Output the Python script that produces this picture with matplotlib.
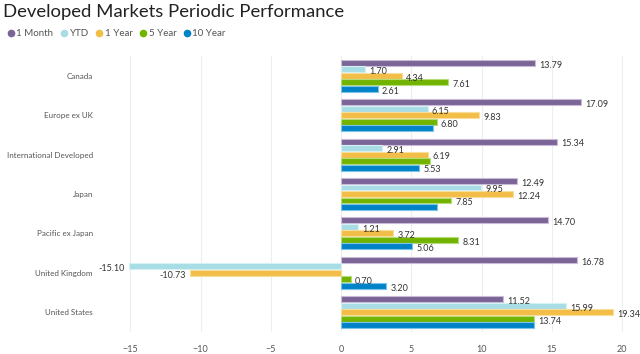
import matplotlib.pyplot as plt
import numpy as np
from matplotlib.lines import Line2D

# Data
regions = ["Canada", "Europe ex UK", "International Developed", "Japan",
           "Pacific ex Japan", "United Kingdom", "United States"]
series = ["1 Month", "YTD", "1 Year", "5 Year", "10 Year"]
one_month = [13.79, 17.09, 15.34, 12.49, 14.70, 16.78, 11.52]
ytd = [1.70, 6.15, 2.91, 9.95, 1.21, -15.10, 15.99]
one_year = [4.34, 9.83, 6.19, 12.24, 3.72, -10.73, 19.34]
five_year = [7.61, 6.80, 6.30, 7.85, 8.31, 0.70, 13.74]
ten_year = [2.61, 6.50, 5.53, 6.85, 5.06, 3.20, 13.70]

# only the data labels that are visible in the reference
shown = {
    "1 Month": [True] * 7,
    "YTD": [True] * 7,
    "1 Year": [True] * 7,
    "5 Year": [True, True, False, True, True, True, True],
    "10 Year": [True, False, True, False, True, True, False],
}

colors = ["#7b6496", "#a8dde6", "#f2be48", "#72b300", "#0082c8"]
edges = ["#c9bcd9", "#d6f0f4", "#f9dd9a", "#b6dc7a", "#7cc3ea"]

plt.rcParams["font.family"] = ["Lato", "DejaVu Sans"]

fig = plt.figure(figsize=(6.4, 3.54), dpi=100)
ax = fig.add_axes([122 / 640, 22 / 354, 503 / 640, 276 / 354])

y = np.arange(len(regions))
bar_h = 0.165
values = [one_month, ytd, one_year, five_year, ten_year]

for i, (name, vals) in enumerate(zip(series, values)):
    pos = y + (i - 2) * bar_h
    ax.barh(pos, vals, height=bar_h * 0.92, color=colors[i],
            edgecolor=edges[i], linewidth=0.8, label=name, zorder=3)
    for p, v, s in zip(pos, vals, shown[name]):
        if not s:
            continue
        if v >= 0:
            ax.text(v + 0.3, p + 0.06, f"{v:.2f}", ha="left", va="center",
                    fontsize=6.5, color="#333333", zorder=4)
        else:
            ax.text(v - 0.3, p + 0.06, f"-{abs(v):.2f}", ha="right", va="center",
                    fontsize=6.5, color="#333333", zorder=4)

ax.set_xlim(-15.6, 20.2)
ax.set_ylim(6.5, -0.5)
ax.set_yticks(y)
ax.set_yticklabels(regions, fontsize=5.8, color="#555555")
ax.set_xticks([-15, -10, -5, 0, 5, 10, 15, 20])
ax.tick_params(axis="x", labelsize=6.5, colors="#555555", length=0, pad=9)
ax.tick_params(axis="y", length=0, pad=21)
ax.grid(axis="x", color="#eeeeee", linewidth=0.8, zorder=0)
for sp in ax.spines.values():
    sp.set_visible(False)

fig.text(0.005, 0.965, "Developed Markets Periodic Performance",
         fontsize=13.3, color="#222222", va="center", ha="left")

handles = [Line2D([], [], marker="o", linestyle="", markersize=4.5,
                  color=c) for c in colors]
fig.legend(handles, series, loc="center left", bbox_to_anchor=(-0.004, 0.905),
           ncol=5, frameon=False, fontsize=7, handletextpad=0.05,
           columnspacing=0.6, handlelength=1.0, labelcolor="#555555")

fig.savefig("out.png", dpi=100)
